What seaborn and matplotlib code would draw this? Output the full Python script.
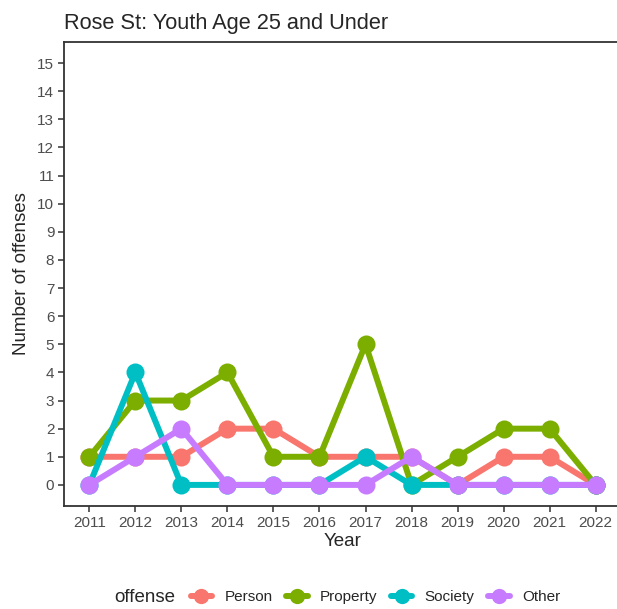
import pandas as pd
import matplotlib.pyplot as plt
from matplotlib.lines import Line2D
import seaborn as sns

years = list(range(2011, 2023))
offenses = ['Person', 'Property', 'Society', 'Other']
person = [1, 1, 1, 2, 2, 1, 1, 1, 0, 1, 1, 0]
property_ = [1, 3, 3, 4, 1, 1, 5, 0, 1, 2, 2, 0]
society = [0, 4, 0, 0, 0, 0, 1, 0, 0, 0, 0, 0]
other = [0, 1, 2, 0, 0, 0, 0, 1, 0, 0, 0, 0]
colors = ['#F8766D', '#7CAE00', '#00BFC4', '#C77CFF']

rows = []
for name, vals in zip(offenses, [person, property_, society, other]):
    for y, v in zip(years, vals):
        rows.append({'year': y, 'count': v, 'offense': name})
df = pd.DataFrame(rows)

sns.set_style('white')
plt.rcParams['font.family'] = ['Liberation Sans', 'DejaVu Sans']

W, H = 617, 609
fig = plt.figure(figsize=(W / 100, H / 100), dpi=100)
ax = fig.add_axes([64 / W, (H - 506) / H, (621 - 64) / W, (506 - 42) / H])

sns.lineplot(data=df, x='year', y='count', hue='offense', hue_order=offenses,
             palette=colors, marker='o', markersize=13, markeredgewidth=0,
             linewidth=4.3, ax=ax, legend=False)

ax.set_xlim(2011 - 0.55, 2022 + 0.55)
ax.set_ylim(-0.75, 15.75)
ax.set_xticks(years)
ax.set_yticks(range(0, 16))
ax.tick_params(axis='both', direction='out', length=4, width=1.1, color='#333333',
               labelcolor='#4D4D4D', labelsize=11, pad=3, left=True, bottom=True)
for s in ['left', 'bottom', 'top']:
    ax.spines[s].set_color('#333333')
    ax.spines[s].set_linewidth(1.3)
ax.spines['right'].set_visible(False)
ax.set_xlabel('Year', fontsize=13.5, labelpad=2)
ax.set_ylabel('Number of offenses', fontsize=13.5, labelpad=5)
ax.set_title('Rose St: Youth Age 25 and Under', fontsize=15.7, loc='left', pad=9)

handles = [Line2D([], [], color=c, marker='o', markersize=11, markeredgewidth=0, linewidth=4.3)
           for c in colors]
fig.text(114 / W, 1 - 597 / H, 'offense', fontsize=13.5, va='center', ha='left')
fig.legend(handles, offenses, ncol=4, loc='center left', bbox_to_anchor=(177 / W, 1 - 597 / H),
           frameon=False, fontsize=11, handlelength=1.4, handletextpad=0.8, columnspacing=0.9)

fig.savefig('out.png', dpi=100)
